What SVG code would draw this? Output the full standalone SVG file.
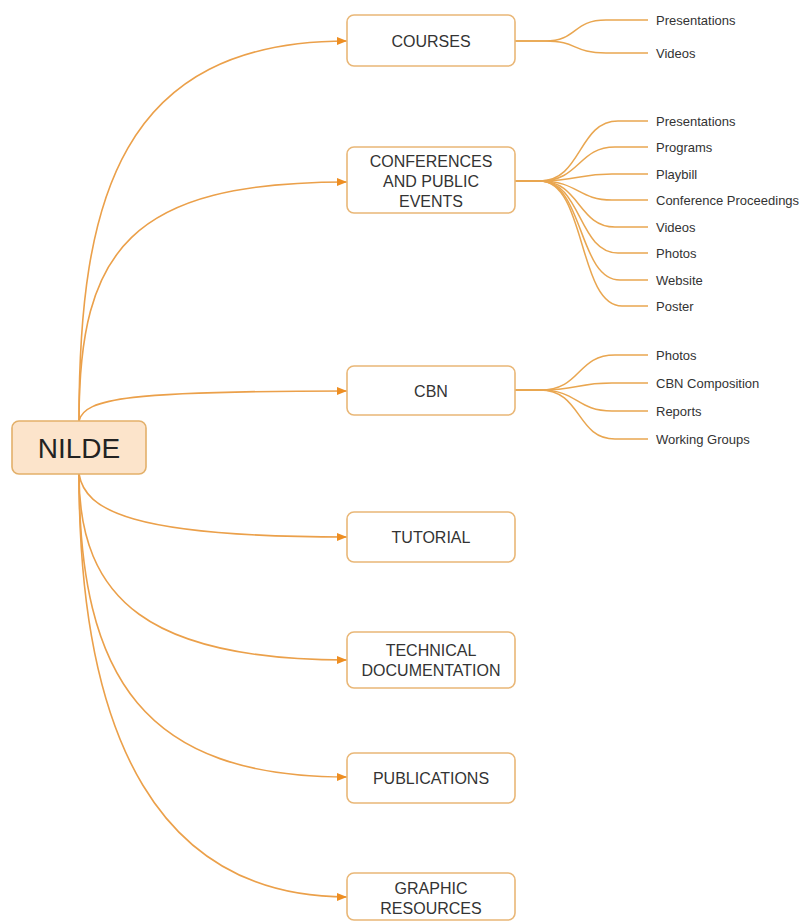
<svg xmlns="http://www.w3.org/2000/svg" width="806" height="922" viewBox="0 0 806 922">
<style>
.bg{fill:#ffffff}
.conn{fill:none;stroke:#EBA04A;stroke-width:1.6}
.br{fill:none;stroke:#E9A650;stroke-width:1.5}
.box{fill:#ffffff;stroke:#E9B777;stroke-width:1.6}
.root{fill:#FCE4CB;stroke:#E3B06A;stroke-width:1.6}
.lbl{font-family:"Liberation Sans",Arial,sans-serif;font-size:16px;fill:#333333;text-anchor:middle}
.rt{font-family:"Liberation Sans",Arial,sans-serif;font-size:28px;fill:#222222;text-anchor:middle}
.leaf{font-family:"Liberation Sans",Arial,sans-serif;font-size:13px;fill:#333333}
</style>
<defs>
<marker id="arr" markerUnits="userSpaceOnUse" markerWidth="10" markerHeight="10" refX="10" refY="5" orient="auto">
<path d="M0,1 L10,5 L0,9 z" fill="#EE8E22"/>
</marker>
</defs>
<rect class="bg" x="0" y="0" width="806" height="922"/>
<g id="connectors">
<path class="conn" marker-end="url(#arr)" d="M79,421 C79,200 120,41 347,41"/>
<path class="conn" marker-end="url(#arr)" d="M79,421 C79,250 130,182 347,182"/>
<path class="conn" marker-end="url(#arr)" d="M79,421 C84,398 130,391 347,391"/>
<path class="conn" marker-end="url(#arr)" d="M79,474 C85,510 130,537 347,537"/>
<path class="conn" marker-end="url(#arr)" d="M79,474 C79,600 150,660 347,660"/>
<path class="conn" marker-end="url(#arr)" d="M79,474 C79,680 145,777 347,777"/>
<path class="conn" marker-end="url(#arr)" d="M79,474 C79,740 160,897 347,897"/>
<!-- COURSES branches -->
<path class="br" d="M515,41 L545,41 C578,41 572,20 606,20 L648,20"/>
<path class="br" d="M515,41 L545,41 C578,41 572,53 606,53 L648,53"/>
<!-- CONFERENCES branches -->
<path class="br" d="M515,181 L540,181 C582,181 578,121 618,121 L648,121"/>
<path class="br" d="M515,181 L540,181 C580,181 578,147 615,147 L648,147"/>
<path class="br" d="M515,181 L540,181 C578,181 578,174 612,174 L648,174"/>
<path class="br" d="M515,181 L540,181 C578,181 578,200 612,200 L648,200"/>
<path class="br" d="M515,181 L540,181 C580,181 578,227 615,227 L648,227"/>
<path class="br" d="M515,181 L540,181 C582,181 578,253 618,253 L648,253"/>
<path class="br" d="M515,181 L540,181 C584,181 578,280 620,280 L648,280"/>
<path class="br" d="M515,181 L540,181 C586,181 578,306 622,306 L648,306"/>
<!-- CBN branches -->
<path class="br" d="M515,390 L540,390 C582,390 576,355 615,355 L648,355"/>
<path class="br" d="M515,390 L540,390 C578,390 576,383 612,383 L648,383"/>
<path class="br" d="M515,390 L540,390 C578,390 576,411 612,411 L648,411"/>
<path class="br" d="M515,390 L540,390 C582,390 576,439 615,439 L648,439"/>
</g>
<g id="nilde">
<rect class="root" x="12" y="421" width="134" height="53" rx="7"/>
<text class="rt" x="79" y="458">NILDE</text>
</g>
<g id="courses">
<rect class="box" x="347" y="15" width="168" height="51" rx="7"/>
<text class="lbl" x="431" y="47">COURSES</text>
</g>
<g id="conferences">
<rect class="box" x="347" y="147" width="168" height="66" rx="7"/>
<text class="lbl" x="431" y="166.5">CONFERENCES</text>
<text class="lbl" x="431" y="186.5">AND PUBLIC</text>
<text class="lbl" x="431" y="206.5">EVENTS</text>
</g>
<g id="cbn">
<rect class="box" x="347" y="366" width="168" height="49" rx="7"/>
<text class="lbl" x="431" y="396.5">CBN</text>
</g>
<g id="tutorial">
<rect class="box" x="347" y="512" width="168" height="50" rx="7"/>
<text class="lbl" x="431" y="543">TUTORIAL</text>
</g>
<g id="technical">
<rect class="box" x="347" y="632" width="168" height="56" rx="7"/>
<text class="lbl" x="431" y="656">TECHNICAL</text>
<text class="lbl" x="431" y="676">DOCUMENTATION</text>
</g>
<g id="publications">
<rect class="box" x="347" y="753" width="168" height="50" rx="7"/>
<text class="lbl" x="431" y="784">PUBLICATIONS</text>
</g>
<g id="graphic">
<rect class="box" x="347" y="873" width="168" height="47" rx="7"/>
<text class="lbl" x="431" y="894">GRAPHIC</text>
<text class="lbl" x="431" y="914">RESOURCES</text>
</g>
<g id="leaves">
<text class="leaf" x="656" y="24.5">Presentations</text>
<text class="leaf" x="656" y="57.5">Videos</text>
<text class="leaf" x="656" y="125.5">Presentations</text>
<text class="leaf" x="656" y="151.5">Programs</text>
<text class="leaf" x="656" y="178.5">Playbill</text>
<text class="leaf" x="656" y="204.5">Conference Proceedings</text>
<text class="leaf" x="656" y="231.5">Videos</text>
<text class="leaf" x="656" y="257.5">Photos</text>
<text class="leaf" x="656" y="284.5">Website</text>
<text class="leaf" x="656" y="310.5">Poster</text>
<text class="leaf" x="656" y="359.5">Photos</text>
<text class="leaf" x="656" y="387.5">CBN Composition</text>
<text class="leaf" x="656" y="415.5">Reports</text>
<text class="leaf" x="656" y="443.5">Working Groups</text>
</g>
</svg>
